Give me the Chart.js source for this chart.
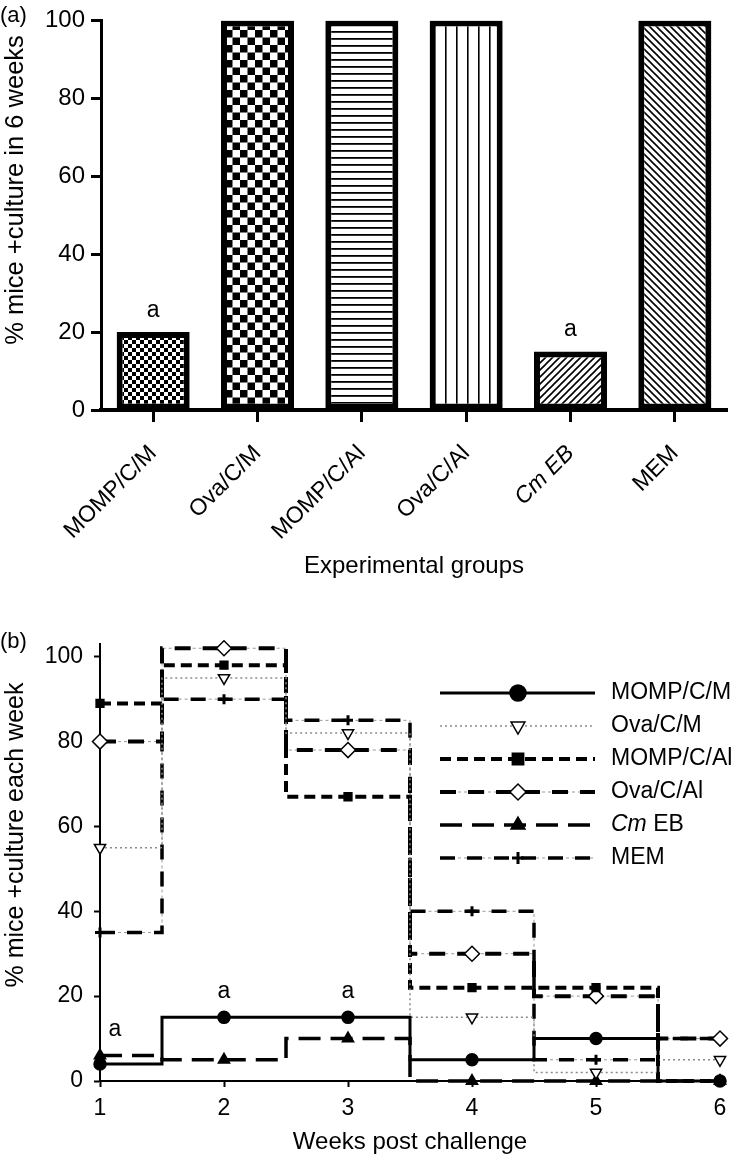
<!DOCTYPE html>
<html>
<head>
<meta charset="utf-8">
<script src="https://cdn.jsdelivr.net/npm/chart.js@4/dist/chart.umd.min.js"></script>
<style>
body { margin: 0; background: #fff; }
#wrap_a { position: absolute; left: 0; top: 0; width: 736px; height: 595px; }
#wrap_b { position: absolute; left: 0; top: 595px; width: 736px; height: 564px; }
</style>
</head>
<body>
<div id="wrap_a"><canvas id="canvas_a" width="736" height="595"></canvas></div>
<div id="wrap_b"><canvas id="canvas_b" width="736" height="564"></canvas></div>
<script>
// panel (a)
var groups = ["MOMP/C/M", "Ova/C/M", "MOMP/C/Al", "Ova/C/Al", "Cm EB", "MEM"];
var pctSixWeeks = [20, 100, 100, 100, 15, 100];
var sigBars = [0, 4];

// panel (b)
var weeks = [1, 2, 3, 4, 5, 6];
var seriesNames = ["MOMP/C/M", "Ova/C/M", "MOMP/C/Al", "Ova/C/Al", "Cm EB", "MEM"];
var mompCM  = [4, 15, 15, 5, 10, 0];
var ovaCM   = [55, 95, 82, 15, 2, 5];
var mompCAl = [89, 98, 67, 22, 22, 0];
var ovaCAl  = [80, 102, 78, 30, 20, 10];
var cmEB    = [6, 5, 10, 0, 0, 0];
var mem     = [35, 90, 85, 40, 5, 10];
var sigWeeks = [[1.12, 12], [2, 21], [3, 21]];
var yTicksB = [0, 20, 40, 60, 80, 100];

var FONT = "'Liberation Sans', Arial, sans-serif";
Chart.defaults.font.family = FONT;
Chart.defaults.color = '#000';

function makePattern(kind) {
    var c = document.createElement('canvas');
    var s = {fine: 8, check: 15, hlines: 7, vlines: 11, diagR: 7, diagL: 7}[kind];
    c.width = s; c.height = s;
    var g = c.getContext('2d');
    g.fillStyle = '#fff';
    g.fillRect(0, 0, s, s);
    g.fillStyle = '#000';
    g.strokeStyle = '#000';
    if (kind == 'fine' || kind == 'check') {
        g.fillRect(0, 0, s / 2, s / 2);
        g.fillRect(s / 2, s / 2, s / 2, s / 2);
    } else if (kind == 'hlines') {
        g.fillRect(0, 3, s, 1.8);
    } else if (kind == 'vlines') {
        g.fillRect(5, 0, 1.6, s);
    } else {
        g.lineWidth = 1.6;
        g.beginPath();
        if (kind == 'diagR') {
            g.moveTo(-1, 1); g.lineTo(1, -1);
            g.moveTo(0, s); g.lineTo(s, 0);
            g.moveTo(s - 1, s + 1); g.lineTo(s + 1, s - 1);
        } else {
            g.moveTo(-1, s - 1); g.lineTo(1, s + 1);
            g.moveTo(0, 0); g.lineTo(s, s);
            g.moveTo(s - 1, -1); g.lineTo(s + 1, 1);
        }
        g.stroke();
    }
    return g.createPattern(c, 'repeat');
}

var barPatterns = ['fine', 'check', 'hlines', 'vlines', 'diagR', 'diagL'].map(makePattern);

function sideTitle(c, text, x, y, size) {
    c.save();
    c.translate(x, y);
    c.rotate(-Math.PI / 2);
    c.font = size + 'px ' + FONT;
    c.fillStyle = '#000';
    c.textAlign = 'center';
    c.textBaseline = 'middle';
    c.fillText(text, 0, 0);
    c.restore();
}

var annotA = {
    id: 'annotA',
    afterDatasetsDraw: function(chart) {
        var c = chart.ctx, meta = chart.getDatasetMeta(0), y = chart.scales.y;
        c.save();
        c.font = '23px ' + FONT;
        c.fillStyle = '#000';
        c.textAlign = 'center';
        c.textBaseline = 'middle';
        sigBars.forEach(function(i) {
            c.fillText('a', meta.data[i].x, y.getPixelForValue(pctSixWeeks[i] + 5.5));
        });
        c.textAlign = 'left';
        c.font = '22px ' + FONT;
        c.fillText('(a)', 0, 16);
        c.restore();
        sideTitle(c, '% mice +culture in 6 weeks', 16, 190, 25.5);
    }
};

var chartA = new Chart(document.getElementById('canvas_a'), {
    type: 'bar',
    data: {
        labels: groups,
        datasets: [{
            data: pctSixWeeks,
            backgroundColor: barPatterns,
            borderColor: '#000',
            borderWidth: 6,
            borderSkipped: false,
            barPercentage: 0.7,
            categoryPercentage: 1
        }]
    },
    options: {
        responsive: false,
        animation: false,
        devicePixelRatio: 1,
        layout: { padding: { top: 17, right: 9, bottom: 14, left: 0 } },
        plugins: { legend: { display: false }, tooltip: { enabled: false } },
        scales: {
            x: {
                grid: { offset: false, drawOnChartArea: false, tickLength: 12, tickWidth: 3, color: '#000' },
                border: { width: 4, color: '#000' },
                ticks: {
                    minRotation: 45, maxRotation: 45, padding: 18, color: '#000',
                    font: function(ctx) { return { size: 23, style: ctx.index === 4 ? 'italic' : 'normal' }; }
                },
                title: { display: true, text: 'Experimental groups', font: { size: 24 }, color: '#000', padding: { top: 4, bottom: 0 } },
                afterFit: function(s) { s.height = 171; }
            },
            y: {
                min: 0, max: 100,
                ticks: { stepSize: 20, font: { size: 24 }, color: '#000', padding: 6 },
                grid: { drawOnChartArea: false, tickLength: 10, tickWidth: 3, color: '#000' },
                border: { width: 3, color: '#000' },
                afterFit: function(s) { s.width = 101; }
            }
        }
    },
    plugins: [annotA]
});

function stepSet(label, vals, style) {
    return Object.assign({
        label: label,
        data: weeks.map(function(w, i) { return { x: w, y: vals[i] }; }),
        stepped: 'middle',
        clip: false,
        fill: false,
        borderColor: '#000',
        pointBorderColor: '#000',
        pointBackgroundColor: '#000',
        pointBorderWidth: 1.5,
        order: 0
    }, style);
}

var dsB = [
    stepSet(seriesNames[0], mompCM, { borderWidth: 3, pointStyle: 'circle', pointRadius: 6 }),
    stepSet(seriesNames[1], ovaCM, { borderColor: '#8a8a8a', borderWidth: 1.5, borderDash: [2, 3],
        pointStyle: 'triangle', pointRotation: 180, pointRadius: 6.5, pointBackgroundColor: '#fff' }),
    stepSet(seriesNames[2], mompCAl, { borderWidth: 4, borderDash: [11, 6], pointStyle: 'rect', pointRadius: 5.5 }),
    stepSet(seriesNames[3], ovaCAl, { borderWidth: 4, borderDash: [16, 12], pointStyle: 'rectRot', pointRadius: 7.5,
        pointBackgroundColor: '#fff' }),
    stepSet(seriesNames[4], cmEB, { borderWidth: 3.5, borderDash: [22, 10], pointStyle: 'triangle', pointRadius: 6.5 }),
    stepSet(seriesNames[5], mem, { borderWidth: 3.5, borderDash: [15, 12], pointStyle: 'cross', pointRadius: 5,
        pointBorderWidth: 3 }),
    // thin grey lines showing through the gaps of the dash-dot styles
    stepSet('under3', ovaCAl, { borderColor: '#999', borderWidth: 1, borderDash: [3, 3], pointRadius: 0, order: 1 }),
    stepSet('under5', mem, { borderColor: '#999', borderWidth: 1, borderDash: [3, 3], pointRadius: 0, order: 1 })
];

function drawMarker(c, ds, x, y, r) {
    c.fillStyle = ds.pointBackgroundColor;
    c.strokeStyle = ds.pointBorderColor;
    c.lineWidth = ds.pointBorderWidth;
    Chart.helpers.drawPoint(c, { pointStyle: ds.pointStyle, rotation: ds.pointRotation || 0, radius: r,
        borderWidth: ds.pointBorderWidth }, x, y);
}

var legendB = {
    id: 'legendB',
    afterDraw: function(chart) {
        var c = chart.ctx;
        c.save();
        for (var i = 0; i < seriesNames.length; i++) {
            var ds = chart.data.datasets[i];
            var y = 98 + 33 * i;
            if (i == 3 || i == 5) {
                c.beginPath(); c.setLineDash([3, 3]); c.lineWidth = 1; c.strokeStyle = '#999';
                c.moveTo(440, y); c.lineTo(595, y); c.stroke();
            }
            c.beginPath();
            c.setLineDash(ds.borderDash || []);
            c.lineWidth = ds.borderWidth;
            c.strokeStyle = ds.borderColor;
            c.moveTo(440, y); c.lineTo(595, y); c.stroke();
            c.setLineDash([]);
            drawMarker(c, ds, 518, y, ds.pointStyle == 'cross' ? 6 : 8);
            c.fillStyle = '#000';
            c.textBaseline = 'middle';
            c.textAlign = 'left';
            if (seriesNames[i] == 'Cm EB') {
                c.font = 'italic 23px ' + FONT;
                c.fillText('Cm', 611, y);
                var w = c.measureText('Cm').width;
                c.font = '23px ' + FONT;
                c.fillText(' EB', 611 + w, y);
            } else {
                c.font = '23px ' + FONT;
                c.fillText(seriesNames[i], 611, y);
            }
        }
        c.font = '23px ' + FONT;
        c.textAlign = 'center';
        sigWeeks.forEach(function(p) {
            c.fillText('a', chart.scales.x.getPixelForValue(p[0]), chart.scales.y.getPixelForValue(p[1]));
        });
        c.textAlign = 'left';
        c.font = '22px ' + FONT;
        c.fillText('(b)', 0, 47);
        c.restore();
        sideTitle(c, '% mice +culture each week', 16, 240, 25);
    }
};

var chartB = new Chart(document.getElementById('canvas_b'), {
    type: 'line',
    data: { datasets: dsB },
    options: {
        responsive: false,
        animation: false,
        devicePixelRatio: 1,
        layout: { padding: { top: 49, right: 16, bottom: 0, left: 0 } },
        plugins: { legend: { display: false }, tooltip: { enabled: false } },
        scales: {
            x: {
                type: 'linear', min: 1, max: 6,
                ticks: { stepSize: 1, font: { size: 23 }, color: '#000', padding: 8 },
                grid: { drawOnChartArea: false, tickLength: 6, tickWidth: 2, color: '#000' },
                border: { width: 2, color: '#000' },
                title: { display: true, text: 'Weeks post challenge', font: { size: 24 }, color: '#000', padding: { top: 2, bottom: 2 } },
                afterFit: function(s) { s.height = 78; }
            },
            y: {
                min: 0, max: 103,
                afterBuildTicks: function(s) { s.ticks = yTicksB.map(function(v) { return { value: v }; }); },
                ticks: { font: { size: 23 }, color: '#000', padding: 11 },
                grid: { drawOnChartArea: false, tickLength: 6, tickWidth: 2, color: '#000' },
                border: { width: 2, color: '#000' },
                afterFit: function(s) { s.width = 100; }
            }
        }
    },
    plugins: [legendB]
});
</script>
</body>
</html>
